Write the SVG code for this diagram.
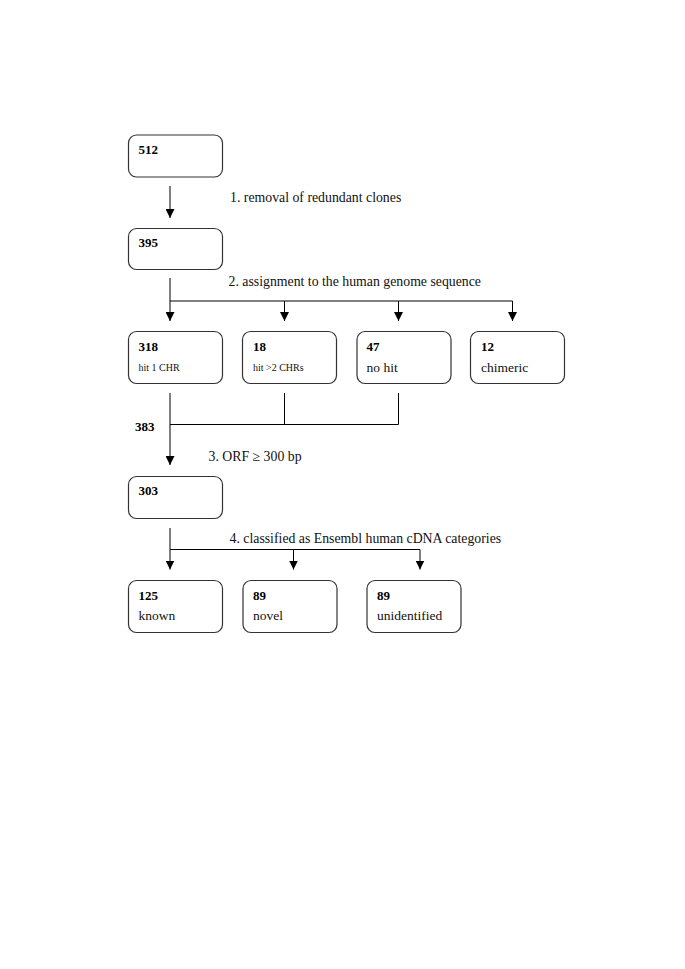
<svg xmlns="http://www.w3.org/2000/svg" width="685" height="969" viewBox="0 0 685 969">
<defs>
<marker id="ah" markerWidth="9" markerHeight="9" refX="9" refY="4.5" orient="auto" markerUnits="userSpaceOnUse">
<path d="M0,0 L9,4.5 L0,9 Z" fill="#000"/>
</marker>
<style>
.box{fill:#fff;stroke:#333;stroke-width:1.2}
.num{font-family:"Liberation Serif",serif;font-weight:bold;font-size:13px;fill:#000}
.lbl{font-family:"Liberation Serif",serif;font-size:13.8px;fill:#111}
.txt{font-family:"Liberation Serif",serif;font-size:13.5px;fill:#111}
.sm{font-family:"Liberation Serif",serif;font-size:10px;fill:#111}
.ln{stroke:#000;stroke-width:1;fill:none}
.ar{stroke:#000;stroke-width:1;fill:none;marker-end:url(#ah)}
</style>
</defs>
<rect width="685" height="969" fill="#fff"/>
<g id="connectors">
<line class="ar" x1="170" y1="186" x2="170" y2="218"/>
<line class="ln" x1="170" y1="278" x2="170" y2="301"/>
<line class="ln" x1="170" y1="301" x2="512.5" y2="301"/>
<line class="ar" x1="170" y1="301" x2="170" y2="321"/>
<line class="ar" x1="284.5" y1="301" x2="284.5" y2="321"/>
<line class="ar" x1="398.5" y1="301" x2="398.5" y2="321"/>
<line class="ar" x1="512.5" y1="301" x2="512.5" y2="321"/>
<line class="ln" x1="284.5" y1="393" x2="284.5" y2="424.5"/>
<line class="ln" x1="398.5" y1="393" x2="398.5" y2="424.5"/>
<line class="ln" x1="170" y1="424.5" x2="398.5" y2="424.5"/>
<line class="ar" x1="170" y1="393" x2="170" y2="465"/>
<line class="ln" x1="170" y1="528" x2="170" y2="549.5"/>
<line class="ln" x1="170" y1="549.5" x2="420" y2="549.5"/>
<line class="ar" x1="170" y1="549.5" x2="170" y2="569.5"/>
<line class="ar" x1="293.5" y1="549.5" x2="293.5" y2="569.5"/>
<line class="ar" x1="420" y1="549.5" x2="420" y2="569.5"/>
</g>
<g id="labels">
<text class="lbl" x="230" y="202">1. removal of redundant clones</text>
<text class="lbl" x="228.5" y="285.5">2. assignment to the human genome sequence</text>
<text class="num" x="135" y="431">383</text>
<text class="lbl" x="208.5" y="460.5">3. ORF ≥ 300 bp</text>
<text class="lbl" x="229.5" y="543">4. classified as Ensembl human cDNA categories</text>
</g>
<g id="n512"><rect class="box" x="128.5" y="135" width="94" height="42" rx="8"/><text class="num" x="138.5" y="154">512</text></g>
<g id="n395"><rect class="box" x="128.5" y="228.5" width="94" height="41" rx="8"/><text class="num" x="138.5" y="246.5">395</text></g>
<g id="n318"><rect class="box" x="128.5" y="331.5" width="94" height="52" rx="8"/><text class="num" x="138.5" y="351">318</text><text class="sm" x="138.5" y="370.5">hit 1 CHR</text></g>
<g id="n18"><rect class="box" x="242.5" y="331.5" width="94" height="52" rx="8"/><text class="num" x="253" y="351">18</text><text class="sm" x="253" y="370.5">hit &gt;2 CHRs</text></g>
<g id="n47"><rect class="box" x="357" y="331.5" width="94" height="52" rx="8"/><text class="num" x="366.5" y="351">47</text><text class="txt" x="366.5" y="371.5">no hit</text></g>
<g id="n12"><rect class="box" x="470.5" y="331.5" width="94" height="52" rx="8"/><text class="num" x="481" y="351">12</text><text class="txt" x="481" y="371.5">chimeric</text></g>
<g id="n303"><rect class="box" x="128.5" y="476.5" width="94" height="42" rx="8"/><text class="num" x="138.5" y="495">303</text></g>
<g id="n125"><rect class="box" x="128.5" y="580.5" width="94" height="52" rx="8"/><text class="num" x="138.5" y="599.5">125</text><text class="txt" x="138.5" y="619.5">known</text></g>
<g id="n89a"><rect class="box" x="243" y="580.5" width="94" height="52" rx="8"/><text class="num" x="253" y="599.5">89</text><text class="txt" x="253" y="619.5">novel</text></g>
<g id="n89b"><rect class="box" x="367" y="580.5" width="94" height="52" rx="8"/><text class="num" x="377" y="599.5">89</text><text class="txt" x="377" y="619.5">unidentified</text></g>
</svg>
